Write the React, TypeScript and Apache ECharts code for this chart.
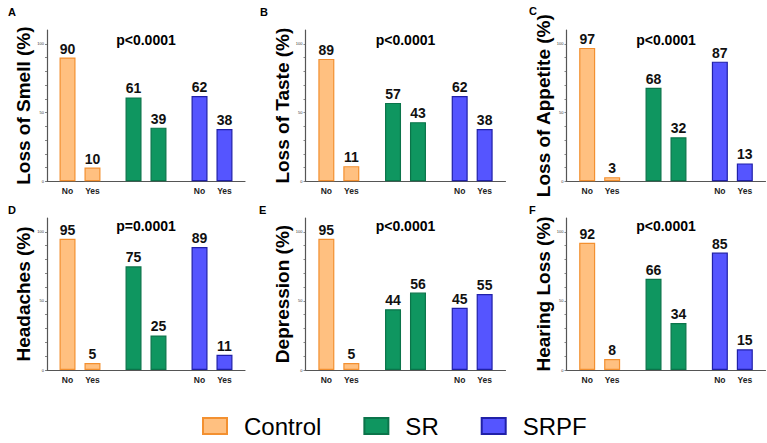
import React, { useEffect, useRef } from "react";
import * as echarts from "echarts";

const groups = ["Control", "SR", "SRPF"];
const responses = ["No", "Yes"];
const panelLetters = ["A", "B", "C", "D", "E", "F"];
const yTitles = [
  "Loss of Smell (%)",
  "Loss of Taste (%)",
  "Loss of Appetite (%)",
  "Headaches (%)",
  "Depression (%)",
  "Hearing Loss (%)",
];
const pValues = ["p<0.0001", "p<0.0001", "p<0.0001", "p=0.0001", "p<0.0001", "p<0.0001"];

const smellNo = [90, 61, 62];
const smellYes = [10, 39, 38];
const tasteNo = [89, 57, 62];
const tasteYes = [11, 43, 38];
const appetiteNo = [97, 68, 87];
const appetiteYes = [3, 32, 13];
const headachesNo = [95, 75, 89];
const headachesYes = [5, 25, 11];
const depressionNo = [95, 44, 45];
const depressionYes = [5, 56, 55];
const hearingNo = [92, 66, 85];
const hearingYes = [8, 34, 15];

const noValues = [smellNo, tasteNo, appetiteNo, headachesNo, depressionNo, hearingNo];
const yesValues = [smellYes, tasteYes, appetiteYes, headachesYes, depressionYes, hearingYes];

const yMin = 0;
const yMax = 110;
const yInterval = 10;

const fills = ["#FFC080", "#0F9660", "#5555FF"];
const borders = ["#F39030", "#0B744A", "#2020A8"];

const FONT = "'Liberation Sans', Arial, Helvetica, sans-serif";

const colLefts = [47, 305.5, 566.5];
const colWidths = [198, 200, 199];
const rowTops = [30, 218];
const rowHeights = [151.3, 152];
const letterPos = [
  [8, 12],
  [260, 12],
  [529, 11],
  [8, 210],
  [259, 210],
  [529, 210],
];
const pY = [40, 226];

export default function App() {
  const ref = useRef<HTMLDivElement>(null);

  useEffect(() => {
    if (!ref.current) return;
    const chart = echarts.init(ref.current, undefined, { renderer: "svg" });

    const grids: any[] = [];
    const xAxes: any[] = [];
    const yAxes: any[] = [];
    const series: any[] = [];
    const graphics: any[] = [];

    for (let i = 0; i < 6; i++) {
      const r = Math.floor(i / 3);
      const c = i % 3;
      grids.push({
        left: colLefts[c],
        top: rowTops[r],
        width: colWidths[c],
        height: rowHeights[r],
        containLabel: false,
      });
      xAxes.push({
        type: "category",
        gridIndex: i,
        data: groups,
        axisLine: { lineStyle: { color: "#555", width: 1.2 } },
        axisTick: { show: false },
        axisLabel: {
          margin: 5,
          formatter: () => "{n|" + responses[0] + "}{y|" + responses[1] + "}",
          rich: {
            n: { width: 25, align: "center", fontSize: 8.5, fontWeight: "bold", color: "#222", fontFamily: FONT },
            y: { width: 25, align: "center", fontSize: 8.5, fontWeight: "bold", color: "#222", fontFamily: FONT },
          },
        },
      });
      yAxes.push({
        type: "value",
        gridIndex: i,
        min: yMin,
        max: yMax,
        interval: yInterval,
        name: yTitles[i],
        nameLocation: "middle",
        nameRotate: 90,
        nameGap: 8,
        nameTextStyle: { fontSize: 19, fontWeight: "bold", color: "#000", fontFamily: FONT },
        splitLine: { show: false },
        axisLine: { show: true, lineStyle: { color: "#555", width: 1.2 } },
        axisTick: { show: true, length: 2, lineStyle: { color: "#666", width: 0.8 } },
        axisLabel: {
          fontSize: 4,
          color: "#333",
          margin: 3,
          fontFamily: FONT,
          showMaxLabel: false,
          formatter: (v: number) => (v % 50 === 0 ? String(v) : ""),
        },
      });
      const labelCfg = {
        show: true,
        position: "top",
        distance: 2,
        fontSize: 14,
        fontWeight: "bold",
        color: "#111",
        fontFamily: FONT,
      };
      series.push({
        type: "bar",
        name: "No" + i,
        xAxisIndex: i,
        yAxisIndex: i,
        barWidth: 16,
        barGap: "56%",
        label: labelCfg,
        data: noValues[i].map((v, j) => ({
          value: v,
          itemStyle: { color: fills[j], borderColor: borders[j], borderWidth: 1.2 },
        })),
      });
      series.push({
        type: "bar",
        name: "Yes" + i,
        xAxisIndex: i,
        yAxisIndex: i,
        barWidth: 16,
        barGap: "56%",
        label: labelCfg,
        data: yesValues[i].map((v, j) => ({
          value: v,
          itemStyle: { color: fills[j], borderColor: borders[j], borderWidth: 1.2 },
        })),
      });
      graphics.push({
        type: "text",
        x: letterPos[i][0],
        y: letterPos[i][1],
        style: {
          text: panelLetters[i],
          fontSize: 11,
          fontWeight: "bold",
          fill: "#000",
          fontFamily: FONT,
          textVerticalAlign: "middle",
        },
      });
      graphics.push({
        type: "text",
        x: colLefts[c] + colWidths[c] / 2,
        y: pY[r],
        style: {
          text: pValues[i],
          fontSize: 14,
          fontWeight: "bold",
          fill: "#000",
          fontFamily: FONT,
          textAlign: "center",
          textVerticalAlign: "middle",
        },
      });
    }

    // hidden grid for legend-only series
    grids.push({ left: 0, top: 0, width: 1, height: 1, show: false });
    xAxes.push({ type: "category", gridIndex: 6, show: false, data: [] });
    yAxes.push({ type: "value", gridIndex: 6, show: false });
    groups.forEach((g, j) => {
      series.push({
        type: "bar",
        name: g,
        xAxisIndex: 6,
        yAxisIndex: 6,
        data: [],
        itemStyle: { color: fills[j], borderColor: borders[j], borderWidth: 2.5 },
      });
    });

    chart.setOption({
      animation: false,
      backgroundColor: "#fff",
      grid: grids,
      xAxis: xAxes,
      yAxis: yAxes,
      series,
      graphic: graphics,
      legend: {
        data: groups,
        left: 197,
        top: 409,
        icon: "rect",
        itemWidth: 24,
        itemHeight: 16,
        itemGap: 42,
        selectedMode: false,
        textStyle: { fontSize: 24, color: "#000", fontFamily: FONT, padding: [0, 0, 0, 12] },
      },
    });

    return () => chart.dispose();
  }, []);

  return (
    <div
      ref={ref}
      style={{ position: "fixed", left: 0, top: 0, width: 767, height: 443 }}
    />
  );
}
